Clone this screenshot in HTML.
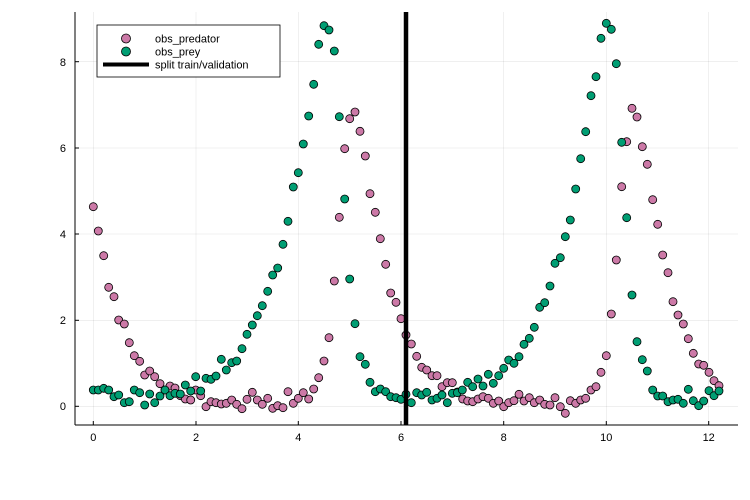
<!DOCTYPE html>
<html><head><meta charset="utf-8"><style>
body{margin:0;background:#fff}
svg{display:block;font-family:"Liberation Sans","DejaVu Sans",sans-serif}
</style></head><body>
<svg id="s" width="750" height="500" viewBox="0 0 750 500">
<rect width="750" height="500" fill="#fff"/>
<g stroke="#000" stroke-opacity="0.1" stroke-width="0.6">
<line x1="93.3" y1="12" x2="93.3" y2="425"/><line x1="196" y1="12" x2="196" y2="425"/><line x1="298.3" y1="12" x2="298.3" y2="425"/><line x1="401" y1="12" x2="401" y2="425"/><line x1="503.7" y1="12" x2="503.7" y2="425"/><line x1="606.3" y1="12" x2="606.3" y2="425"/><line x1="708.7" y1="12" x2="708.7" y2="425"/>
<line x1="75" y1="406.3" x2="738" y2="406.3"/><line x1="75" y1="320.3" x2="738" y2="320.3"/><line x1="75" y1="234" x2="738" y2="234"/><line x1="75" y1="148" x2="738" y2="148"/><line x1="75" y1="61.7" x2="738" y2="61.7"/>
</g>
<g stroke="#000" stroke-width="1">
<line x1="75" y1="12" x2="75" y2="425"/><line x1="75" y1="425" x2="738" y2="425"/>
<line x1="93.3" y1="425" x2="93.3" y2="421"/><line x1="196" y1="425" x2="196" y2="421"/><line x1="298.3" y1="425" x2="298.3" y2="421"/><line x1="401" y1="425" x2="401" y2="421"/><line x1="503.7" y1="425" x2="503.7" y2="421"/><line x1="606.3" y1="425" x2="606.3" y2="421"/><line x1="708.7" y1="425" x2="708.7" y2="421"/>
<line x1="75" y1="406.3" x2="79" y2="406.3"/><line x1="75" y1="320.3" x2="79" y2="320.3"/><line x1="75" y1="234" x2="79" y2="234"/><line x1="75" y1="148" x2="79" y2="148"/><line x1="75" y1="61.7" x2="79" y2="61.7"/>
</g>
<g font-size="11" fill="#000" text-anchor="middle">
<text x="93.3" y="441">0</text><text x="196" y="441">2</text><text x="298.3" y="441">4</text><text x="401" y="441">6</text><text x="503.7" y="441">8</text><text x="606.3" y="441">10</text><text x="708.7" y="441">12</text>
</g>
<g font-size="11" fill="#000" text-anchor="end">
<text x="66" y="410">0</text><text x="66" y="324">2</text><text x="66" y="238">4</text><text x="66" y="152">6</text><text x="66" y="66">8</text>
</g>
<g id="pts"></g>
<line x1="406" y1="12" x2="406" y2="425" stroke="#000" stroke-width="4.5"/>
<rect x="97" y="25" width="183" height="52" fill="#fff" stroke="#000" stroke-width="0.8"/>
<circle cx="126" cy="38.5" r="4.5" fill="#cc79a7" stroke="#000" stroke-width="0.8"/>
<circle cx="126" cy="51.5" r="4.5" fill="#009e73" stroke="#000" stroke-width="0.8"/>
<line x1="103" y1="64.5" x2="149" y2="64.5" stroke="#000" stroke-width="4"/>
<g font-size="11" fill="#000">
<text x="155" y="42.5">obs_predator</text><text x="155" y="55.5">obs_prey</text><text x="155" y="68.5">split train/validation</text>
</g>
</svg>
<script>
var pred=[[93.3,206.7],[98.3,231],[103.7,255.7],[108.7,287.3],[114,296.7],[118.7,320],[124.3,324],[129.3,342.7],[134.3,355.7],[139.7,361.3],[144.7,375],[149.7,371],[154.7,376.7],[160,383.7],[165,390],[170,386],[175,388],[180.3,395.7],[185.3,399],[190.7,400],[195.7,390],[200.7,395.7],[206,406.7],[211,401.7],[216,402.7],[221.3,404],[226.3,403.3],[231.7,400],[236.7,404.3],[242,408.7],[247,399.3],[252.3,392.3],[257.3,400],[262.3,404.3],[267.7,398.3],[272.7,408.3],[277.7,405.7],[283,407.7],[288,391.7],[293.3,403.3],[298.3,398.3],[303.3,392.7],[308.7,399],[313.7,389],[318.7,377.7],[324,361],[329,337.7],[334.3,281],[339.3,217.3],[344.7,148.7],[349.7,118.7],[355,112],[360,131.3],[365.3,156],[370,193.7],[375.3,212.3],[380.3,238.7],[385.7,264.3],[390.7,293],[396,302.3],[401,318.7],[406,335],[411.3,344],[416.7,356.3],[421.7,367.3],[426.7,370],[432,375.7],[437,375.7],[442,386.7],[447.3,382.7],[452.3,382.7],[457.3,392],[462.7,399],[467.7,401],[472.7,401.7],[478,399],[483,396.7],[488.3,398.3],[493.3,403.3],[498.7,401],[503.7,406.7],[508.7,402.7],[514,400.7],[519,394.3],[524,401],[529.3,397.7],[534.3,402.7],[539.7,400],[544.7,404.3],[550,405],[555,397.7],[560.3,406.7],[565.3,413.3],[570.3,400.7],[575.7,403.3],[580.7,400],[585.7,398.3],[591,390],[596,386.7],[601,372.3],[606.3,355.7],[611.3,314],[616.3,260],[621.7,186.7],[626.7,141.7],[632,108.3],[637,117],[642.3,146.7],[647.3,164.3],[652.7,199.7],[657.7,224.3],[662.7,255],[668,272.7],[673,301.7],[678,315],[683.3,324],[688.3,338.7],[693.3,353.3],[698.7,364],[703.7,365.3],[709,372.3],[714,380.7],[719,385.7]];
var prey=[[93.3,390],[98.3,390],[103.7,388.3],[108.7,390],[114,396.7],[118.7,395],[124.3,402.7],[129.3,401.7],[134.3,390],[139.7,392.7],[144.7,405],[149.7,394],[154.7,402.7],[160,396],[165,390],[170,395.7],[175,393.3],[180.3,394],[185.3,385],[190.7,391],[195.7,376.7],[200.7,391],[206,378.3],[211,379.3],[216,376],[221.3,359.3],[226.3,370],[231.7,362.7],[236.7,361],[242,348.7],[247,334.3],[252.3,325],[257.3,315.7],[262.3,305.7],[267.7,291.3],[272.7,275],[277.7,268],[283,244.3],[288,221.3],[293.3,187],[298.3,172.7],[303.3,144],[308.7,116],[313.7,84.3],[318.7,44.3],[324,25.7],[329,30],[334.3,51],[339.3,116.7],[344.7,199],[349.7,279],[355,323.7],[360,356.7],[365.3,364.3],[370,382.3],[375.3,391.7],[380.3,389],[385.7,391.7],[390.7,396.7],[396,397.7],[401,399.3],[406,394.3],[411.3,402.7],[416.7,392.7],[421.7,395],[426.7,392.3],[432,400],[437,398.3],[442,395],[447.3,402.7],[452.3,393.3],[457.3,392.7],[462.3,390],[467.7,382.3],[472.7,386.7],[478,379],[483,386],[488.3,374.3],[493.3,383.3],[498.7,375.7],[503.7,368.3],[508.7,360],[514,363.3],[519,356.7],[524,344.3],[529.3,338.3],[534.3,327.3],[539.7,307.3],[544.7,302.7],[550,286],[555,263.3],[560.3,257.7],[565.3,236.7],[570.3,220],[575.7,189],[580.7,158.7],[585.7,131.7],[591,95.7],[596,76.7],[601,38.3],[606.3,23.3],[611.3,29.3],[616.3,63.7],[621.7,142.3],[626.7,217.7],[632,295],[637,341.7],[642.3,359.7],[647.3,371],[652.7,390],[657.7,396],[662.7,396],[668,401.7],[673,400],[678,399.3],[683.3,403.3],[688.3,389.3],[693.3,400.7],[698.7,405.7],[703.7,401],[709,390.7],[714,395.7],[719,391]];
var g=document.getElementById('pts'),h='';
pred.forEach(function(p){h+='<circle cx="'+p[0]+'" cy="'+p[1]+'" r="4" fill="#cc79a7" stroke="#000" stroke-width="0.8"/>';});
prey.forEach(function(p){h+='<circle cx="'+p[0]+'" cy="'+p[1]+'" r="4" fill="#009e73" stroke="#000" stroke-width="0.8"/>';});
g.innerHTML=h;
</script>
</body></html>
